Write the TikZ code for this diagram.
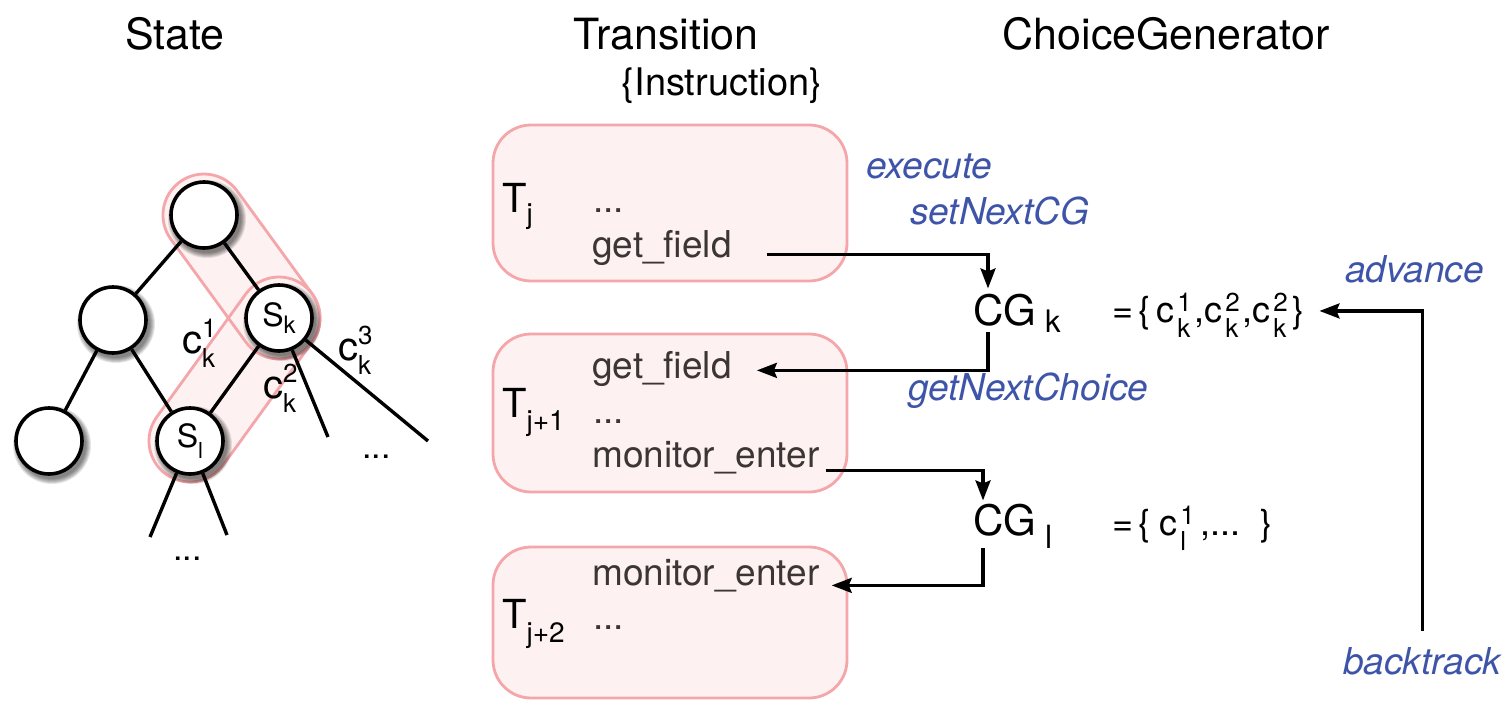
\documentclass[tikz,border=0pt]{standalone}
\usepackage{fontspec}
\setmainfont{TeX Gyre Heros}
\usetikzlibrary{arrows.meta,calc}

\definecolor{pinkline}{RGB}{244,166,170}
\definecolor{pinkfill}{RGB}{253,242,241}
\definecolor{codegray}{RGB}{59,53,53}
\definecolor{labelblue}{RGB}{62,84,168}

\pgfdeclarelayer{bg}
\pgfsetlayers{bg,main}

\newcommand\fsz[1]{\fontsize{#1}{#1}\selectfont}
% stacked super/subscript: sup, sub, raise, lower, script size
\newcommand\supsub[5]{\rlap{\raisebox{#3}{\fsz{#5}#1}}\raisebox{-#4}{\fsz{#5}#2}}
\newcommand\treec[2]{c\supsub{#1}{#2}{0.4em}{0.37em}{26}}
\newcommand\setc[2]{c\kern3pt\supsub{#1}{#2}{0.3em}{0.42em}{26}}

\begin{document}
\begin{tikzpicture}[x=1pt,y=-1pt,
  title/.style={font=\fsz{43}, inner sep=0, anchor=base},
  code/.style={font=\fsz{37}, text=codegray, inner sep=0, anchor=base west},
  call/.style={font=\fsz{37}\itshape, text=labelblue, inner sep=0, anchor=base west},
  tlab/.style={font=\fsz{40}, inner sep=0, anchor=base west},
  plain/.style={inner sep=0, anchor=base west},
  tbox/.style={draw=pinkline, fill=pinkfill, line width=2.8pt, rounded corners=38pt,
               minimum width=354pt, inner sep=0},
  circ/.style={circle, draw, fill=white, line width=3.6pt, minimum size=66pt,
               inner sep=0, font=\fsz{32}},
  edge/.style={line width=3.4pt},
  arr/.style={line width=3.2pt, -{Stealth[length=20pt,width=15pt,inset=3pt]}},
  hl/.style={rectangle, rounded corners=41pt, minimum height=82pt, inner sep=0},
  shade/.style={fill=black, opacity=0.1}
]
\useasboundingbox (0,0) rectangle (1506,701);

% column headings
\node[title] (hstate) at (175,49) {State};
\node[title] (htrans) at (666,49) {Transition};
\node[title] (hcg) at (1166,49) {ChoiceGenerator};
\node[title, font=\fsz{38}] (hinstr) at (722,95) {\{Instruction\}};

% state tree
\node[circ] (root) at (204,215) {};
\node[circ] (lm) at (113,320) {};
\node[circ] (sk) at (279,318) {S\raisebox{-7pt}{\fsz{24}k}};
\node[circ] (lb) at (49,441) {};
\node[circ] (sl) at (190,441) {S\raisebox{-11pt}{\fsz{22}l}};

\coordinate (e2) at (328,437);
\coordinate (e3) at (428,441);
\coordinate (e4) at (150,537);
\coordinate (e5) at (227,535);

% highlighted paths through the tree, with soft node shadows
\begin{pgfonlayer}{bg}
  \node[hl, fill=pinkfill, rotate=-53.9, minimum width=209.4pt] (hl1) at ($(root)!0.5!(sk)$) {};
  \node[hl, fill=pinkfill, rotate=54.1, minimum width=233.8pt] (hl2) at ($(sl)!0.5!(sk)$) {};
  \node[hl, draw=pinkline, line width=2.8pt, rotate=-53.9, minimum width=209.4pt] (hl1line) at (hl1) {};
  \node[hl, draw=pinkline, line width=2.8pt, rotate=54.1, minimum width=233.8pt] (hl2line) at (hl2) {};
  \foreach \n in {root,lm,sk,lb,sl}
    \foreach \r in {34,35,36,37,38,39}
      \fill[shade] ([shift={(3,4)}]\n.center) circle (\r);
\end{pgfonlayer}

\draw[edge] (root) -- (lm);
\draw[edge] (root) -- (sk);
\draw[edge] (lm) -- (lb);
\draw[edge] (lm) -- (sl);
\draw[edge] (sk) -- (sl);
\draw[edge] (sk) -- (e2);
\draw[edge] (sk) -- (e3);
\draw[edge] (sl) -- (e4);
\draw[edge] (sl) -- (e5);

\node[plain, font=\fsz{40}] (ck1) at (182,353) {\treec{1}{k}};
\node[plain, font=\fsz{40}] (ck2) at (263,398) {\treec{2}{k}};
\node[plain, font=\fsz{40}] (ck3) at (338,360) {\treec{3}{k}};
\node[plain, font=\fsz{34}] (tdots1) at (362,458) {...};
\node[plain, font=\fsz{34}] (tdots2) at (173,560) {...};

% transitions
\node[tbox, minimum height=156pt] (t1) at (670,203) {};
\node[tbox, minimum height=158pt] (t2) at (670,413) {};
\node[tbox, minimum height=151pt] (t3) at (670,622.5) {};

\node[tlab] (tj) at (502,212) {T\raisebox{-11pt}{\fsz{28}j}};
\node[tlab] (tj1) at (502,417) {T\raisebox{-13pt}{\fsz{28}j+1}};
\node[tlab] (tj2) at (502,628) {T\raisebox{-14pt}{\fsz{28}j+2}};

\node[code] (dots1) at (593,212) {...};
\node[code] (gf1) at (592,257) {get\_field};
\node[code] (gf2) at (592,378) {get\_field};
\node[code] (dots2) at (593,423) {...};
\node[code] (me2) at (592,467) {monitor\_enter};
\node[code] (me3) at (592,585) {monitor\_enter};
\node[code] (dots3) at (593,629) {...};

% choice generators
\node[plain, font=\fsz{42}] (cgk) at (973,325) {CG\kern9pt\raisebox{-7pt}{\fsz{31}k}};
\node[plain, font=\fsz{36}] (setk) at (1112,322)
  {=\kern5pt\{\kern6pt\setc{1}{k}\kern4pt,\setc{2}{k}\kern4pt,\setc{2}{k}\kern6pt\}};
\node[plain, font=\fsz{42}] (cgl) at (973,535) {CG\kern9pt\raisebox{-13pt}{\fsz{32}l}};
\node[plain, font=\fsz{36}] (setl) at (1112,535)
  {=\kern5pt\{\kern9pt\setc{1}{l}\kern14pt,...\kern20pt\}};

% method calls
\node[call] (lexec) at (866,178) {execute};
\node[call] (lset) at (910,224) {setNextCG};
\node[call] (lget) at (908,400) {getNextChoice};
\node[call] (ladv) at (1345,282) {advance};
\node[call] (lback) at (1343,674) {backtrack};

% control flow
\draw[arr] ([xshift=35pt]gf1.mid east) -| ([xshift=15pt,yshift=5pt]cgk.north west);
\draw[arr] ([xshift=15pt]cgk.south west) |- ([xshift=25pt,yshift=5pt]gf2.mid east);
\draw[arr] ([xshift=6pt,yshift=-6pt]me2.mid east) -| ([xshift=10pt,yshift=3pt]cgl.north west);
\draw[arr] ([xshift=10pt]cgl.south west) |- ([xshift=12pt,yshift=-3pt]me3.mid east);
\draw[arr] ([yshift=16pt]lback.north) |- ([xshift=15pt,yshift=4pt]setk.east);
\end{tikzpicture}
\end{document}
